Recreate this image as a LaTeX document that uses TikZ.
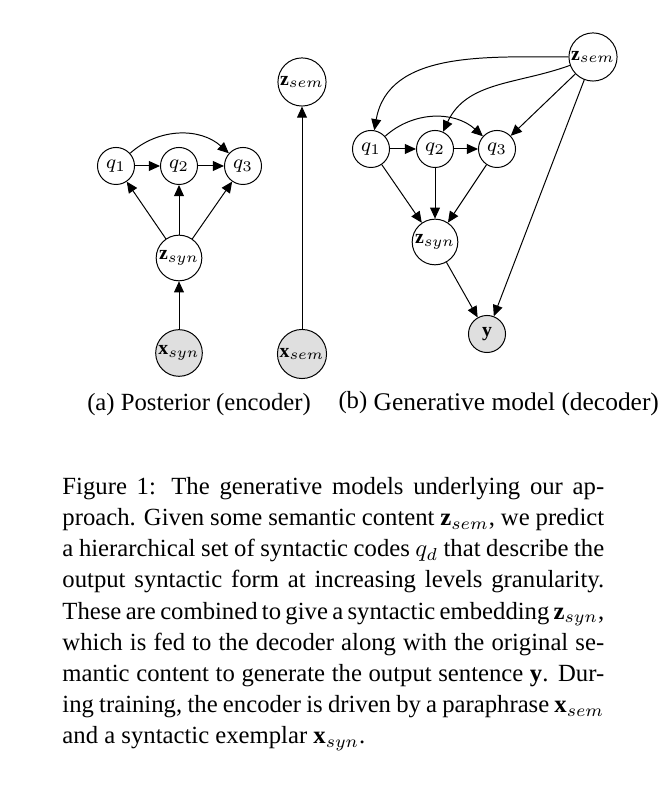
\documentclass[tikz,border=0pt]{standalone}
\usepackage{fontspec}
\setmainfont{Liberation Serif}
\usetikzlibrary{arrows.meta, positioning}
\tikzset{
    var/.style={circle, draw, minimum size=15pt, inner sep=0.5pt, font=\fontsize{8}{9.6}\selectfont},
    obs/.style={var, fill=gray!25},
    link/.style={-{Triangle[length=4.5pt,width=4pt]}},
    subcap/.style={font=\fontsize{10}{12}\selectfont, inner sep=0pt},
}

\begin{document}
\begin{tikzpicture}[x=0.405pt, y=0.405pt]
    \useasboundingbox (0,0) rectangle (666,790);

    % (a) Posterior
    \node[var] (q1) at (116,624) {$q_1$};
    \node[var] (q2) at (179,624) {$q_2$};
    \node[var] (q3) at (243,624) {$q_3$};
    \node[var] (zsyn) at (179,532) {$\mathbf{z}_{syn}$};
    \node[obs] (xsyn) at (179,437) {$\mathbf{x}_{syn}$};

    \draw[link] (q1) -- (q2);
    \draw[link] (q2) -- (q3);
    \draw[link] (q1) to[bend left=42] (q3);
    \foreach \q in {q1,q2,q3} {
        \draw[link] (zsyn) -- (\q);
    }
    \draw[link] (xsyn) -- (zsyn);

    % semantic encoder
    \node[var] (zsem) at (302,708) {$\mathbf{z}_{sem}$};
    \node[obs] (xsem) at (302,436) {$\mathbf{x}_{sem}$};
    \draw[link] (xsem) -- (zsem);

    % (b) Generative model
    \node[var] (gzsem) at (593,733) {$\mathbf{z}_{sem}$};
    \node[var] (gq1) at (371,641) {$q_1$};
    \node[var] (gq2) at (435,641) {$q_2$};
    \node[var] (gq3) at (497,641) {$q_3$};
    \node[var] (gzsyn) at (435,548) {$\mathbf{z}_{syn}$};
    \node[obs] (gy) at (487,456) {$\mathbf{y}$};

    \draw[link] (gzsem) to[out=180, in=80] (gq1);
    \draw[link] (gzsem) to[out=200, in=65] (gq2);
    \draw[link] (gzsem) -- (gq3);
    \draw[link] (gzsem) -- (gy);
    \draw[link] (gq1) -- (gq2);
    \draw[link] (gq2) -- (gq3);
    \draw[link] (gq1) to[bend left=42] (gq3);
    \foreach \q in {gq1,gq2,gq3} {
        \draw[link] (\q) -- (gzsyn);
    }
    \draw[link] (gzsyn) -- (gy);

    % sub-captions
    \node[subcap] (capa) at (199,385) {(a) Posterior (encoder)};
    \node[subcap, anchor=base west, font=\fontsize{10.3}{12}\selectfont] (capb) at (338,379)
        {\raisebox{1pt}{\fontsize{10}{12}\selectfont(b)} Generative model (decoder)};

    % caption
    \node[anchor=north west, text width=219.4pt, align=justify, inner sep=0pt,
          font=\fontsize{10}{12.6}\selectfont] (caption) at (62,313) {%
        Figure 1: The generative models underlying our ap-\linebreak
        proach. Given some semantic content $\mathbf{z}_{sem}$, we predict\linebreak
        a hierarchical set of syntactic codes $q_d$ that describe the\linebreak
        output syntactic form at increasing levels granularity.\linebreak
        These are combined to give a syntactic embedding $\mathbf{z}_{syn}$,\linebreak
        which is fed to the decoder along with the original se-\linebreak
        mantic content to generate the output sentence $\mathbf{y}$. Dur-\linebreak
        ing training, the encoder is driven by a paraphrase $\mathbf{x}_{sem}$\linebreak
        and a syntactic exemplar $\mathbf{x}_{syn}$.};
\end{tikzpicture}
\end{document}
